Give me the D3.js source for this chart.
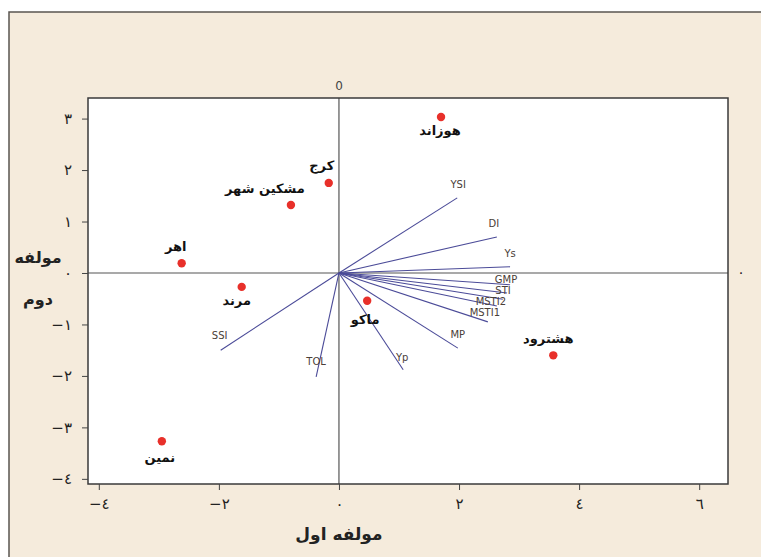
<!DOCTYPE html>
<html>
<head>
<meta charset="utf-8">
<script src="https://cdn.jsdelivr.net/npm/d3@7"></script>
<style>
  body { margin: 0; background: #fff; }
  svg { display: block; }
</style>
</head>
<body>
<div id="chart"></div>
<script>
// genotype scores (PC1, PC2)
const genotypes = ["هوزاند", "کرج", "مشکین شهر", "اهر", "مرند", "ماکو", "هشترود", "نمین"];
const pc1 = [1.70, -0.17, -0.80, -2.62, -1.62, 0.47, 3.57, -2.95];
const pc2 = [3.03, 1.75, 1.32, 0.19, -0.27, -0.54, -1.60, -3.27];

// index loadings
const indices = ["YSI", "DI", "Ys", "GMP", "STI", "MSTI2", "MSTI1", "", "MP", "Yp", "TOL", "SSI"];
const vx = [1.97, 2.63, 2.85, 2.85, 2.80, 2.73, 2.63, 2.48, 1.98, 1.07, -0.38, -1.97];
const vy = [1.46, 0.70, 0.12, -0.23, -0.39, -0.51, -0.64, -0.95, -1.46, -1.88, -2.02, -1.50];

const xTicks = [-4, -2, 0, 2, 4, 6];
const yTicks = [3, 2, 1, 0, -1, -2, -3, -4];

// label placement offsets (px)
const gLab = [[-1, 18], [-7, -13], [-26, -12], [-6, -12], [-5, 18], [-2, 23], [-5, -12], [-2, 21]];
const vLab = [[1, -10], [-3, -10], [0, -10], [-4, -2], [-4, 1], [-12, 6], [-12, 10], [0, 0], [0, -10], [-1, -9], [0, -12], [-1, -11]];

const W = 761, H = 557;
const pL = 88, pR = 728, pT = 98, pB = 484;

const fa = s => String(s).replace(/\d/g, d => "٠١٢٣٤٥٦٧٨٩"[d]).replace("-", "\u2212");

const svg = d3.select("#chart").append("svg")
  .attr("width", W).attr("height", H);

// outer frame
svg.append("rect")
  .attr("x", 9).attr("y", 12).attr("width", W + 20).attr("height", H + 20)
  .attr("fill", "#f5ebdc").attr("stroke", "#5a5550").attr("stroke-width", 1.5);

const x = d3.scaleLinear().domain([-4.18, 6.48]).range([pL, pR]);
const y = d3.scaleLinear().domain([-4.1, 3.40]).range([pB, pT]);

svg.append("rect")
  .attr("x", pL).attr("y", pT).attr("width", pR - pL).attr("height", pB - pT)
  .attr("fill", "#fff");

// reference lines
svg.append("line")
  .attr("x1", pL).attr("x2", pR).attr("y1", y(0)).attr("y2", y(0))
  .attr("stroke", "#555").attr("stroke-width", 1.2);
svg.append("line")
  .attr("x1", x(0)).attr("x2", x(0)).attr("y1", pT).attr("y2", pB)
  .attr("stroke", "#555").attr("stroke-width", 1.2);

svg.append("text").attr("x", x(0)).attr("y", pT - 8)
  .attr("text-anchor", "middle").attr("font-family", "DejaVu Sans").attr("font-size", 12)
  .attr("fill", "#444").text("0");
svg.append("text").attr("x", pR + 13).attr("y", y(0) + 4)
  .attr("text-anchor", "middle").attr("font-family", "DejaVu Sans").attr("font-size", 14)
  .attr("fill", "#222").text("٠");

// loading vectors
const vecs = indices.map((n, i) => ({n, x: vx[i], y: vy[i], o: vLab[i]}));
svg.selectAll(".vec").data(vecs).enter().append("line")
  .attr("class", "vec")
  .attr("x1", x(0)).attr("y1", y(0))
  .attr("x2", d => x(d.x)).attr("y2", d => y(d.y))
  .attr("stroke", "#4b4b98").attr("stroke-width", 1.1);

svg.selectAll(".vlab").data(vecs).enter().append("text")
  .attr("class", "vlab")
  .attr("x", d => x(d.x) + d.o[0]).attr("y", d => y(d.y) + d.o[1])
  .attr("text-anchor", "middle")
  .attr("font-family", "DejaVu Sans").attr("font-size", 10)
  .attr("fill", "#4a4038")
  .text(d => d.n);

// genotype points
const pts = genotypes.map((n, i) => ({n, x: pc1[i], y: pc2[i], o: gLab[i]}));
svg.selectAll(".pt").data(pts).enter().append("circle")
  .attr("class", "pt")
  .attr("cx", d => x(d.x)).attr("cy", d => y(d.y)).attr("r", 4.2)
  .attr("fill", "#e8302a");

svg.selectAll(".plab").data(pts).enter().append("text")
  .attr("class", "plab")
  .attr("x", d => x(d.x) + d.o[0]).attr("y", d => y(d.y) + d.o[1])
  .attr("text-anchor", "middle")
  .attr("font-family", "DejaVu Sans").attr("font-size", 13).attr("font-weight", "bold")
  .attr("fill", "#111")
  .text(d => d.n);

// plot border
svg.append("rect")
  .attr("x", pL).attr("y", pT).attr("width", pR - pL).attr("height", pB - pT)
  .attr("fill", "none").attr("stroke", "#3a3a3a").attr("stroke-width", 1.5);

// axes
const gx = svg.append("g").attr("transform", `translate(0,${pB})`)
  .call(d3.axisBottom(x).tickValues(xTicks).tickFormat(fa).tickSize(6).tickPadding(8));
const gy = svg.append("g").attr("transform", `translate(${pL},0)`)
  .call(d3.axisLeft(y).tickValues(yTicks).tickFormat(fa).tickSize(6).tickPadding(10));
[gx, gy].forEach(g => {
  g.select(".domain").remove();
  g.selectAll("line").attr("stroke", "#444");
  g.selectAll("text").attr("font-family", "DejaVu Sans").attr("font-size", 15).attr("fill", "#222");
});

// axis titles
svg.append("text").attr("x", x(0)).attr("y", 540)
  .attr("text-anchor", "middle").attr("font-family", "DejaVu Sans")
  .attr("font-size", 17).attr("font-weight", "bold").attr("fill", "#222")
  .text("مولفه اول");
svg.append("text").attr("x", 38).attr("y", 263)
  .attr("text-anchor", "middle").attr("font-family", "DejaVu Sans")
  .attr("font-size", 16).attr("font-weight", "bold").attr("fill", "#222")
  .text("مولفه");
svg.append("text").attr("x", 38).attr("y", 305)
  .attr("text-anchor", "middle").attr("font-family", "DejaVu Sans")
  .attr("font-size", 16).attr("font-weight", "bold").attr("fill", "#222")
  .text("دوم");
</script>
</body>
</html>
